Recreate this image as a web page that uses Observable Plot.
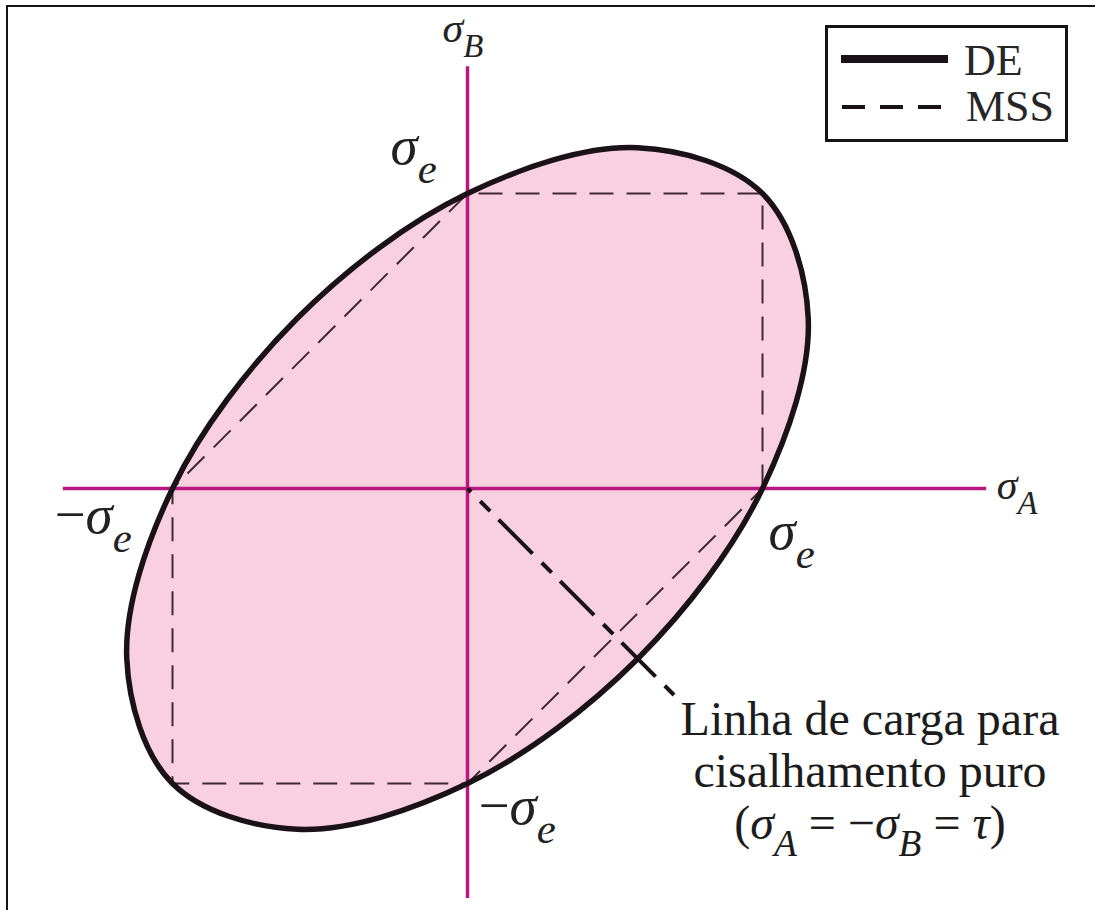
<!DOCTYPE html>
<html>
<head>
<meta charset="utf-8">
<script src="https://cdn.jsdelivr.net/npm/d3@7"></script>
<script src="https://cdn.jsdelivr.net/npm/@observablehq/plot@0.6"></script>
<style>
  html, body { margin: 0; padding: 0; background: #fff; }
  #wrap { position: relative; width: 1095px; height: 910px; overflow: hidden; }
  #wrap svg.plot { position: absolute; left: 0; top: 0; }
  #frame { position: absolute; left: 6px; top: 5px; right: -20px; bottom: -20px;
           border-top: 2.5px solid #151515; border-left: 2.5px solid #151515; }
  #legend { position: absolute; left: 825px; top: 25px; width: 243px; height: 117px;
            box-sizing: border-box; border: 3px solid #151515; background: #fff; }
  #legend svg { position: absolute; left: -3px; top: -3px; }
</style>
</head>
<body>
<div id="wrap">
  <div id="frame"></div>
  <div id="legend"></div>
</div>
<script>
// Stresses are in units of the yield strength σe.
const sigmaE = 1;

// Distortion-energy (von Mises) boundary: σA² − σAσB + σB² = σe²,
// points around the ellipse (axis crossings, square corners, extremes).
const deA = [1, 1.155, 1, 0.577, 0, -0.577, -1, -1.155, -1, -0.577, 0, 0.577];
const deB = [0, 0.577, 1, 1.155, 1, 0.577, 0, -0.577, -1, -1.155, -1, -0.577];

// Maximum-shear-stress (Tresca) hexagon vertices.
const mssA = [1, 1, 0, -1, -1, 0];
const mssB = [0, 1, 1, 0, -1, -1];

// Extents of the σA and σB axes.
const axisA = [-1.37, 1.76];
const axisB = [-1.39, 1.43];

// Load line for pure shear, σA = −σB = τ.
const shearA = [0, 0.7];
const shearB = [0, -0.7];

// Text.
const axisNames = ["σ_{A}", "σ_{B}"];
const interceptLabels = ["σ_{e}", "σ_{e}", "−σ_{e}", "−σ_{e}"];
const shearNote = "Linha de carga para\ncisalhamento puro\n(σ_{A} = −σ_{B} = τ)";
const legendNames = ["DE", "MSS"];

const de = deA.map((a, i) => ({a, b: deB[i]}));
const mss = mssA.map((a, i) => ({a, b: mssB[i]}));
const shear = shearA.map((a, i) => ({a, b: shearB[i]}));

const pink = "#f8d0df";
const magenta = "#b8187f";
const ink = "#1a1216";
const serif = "'Liberation Serif', 'Times New Roman', serif";

const pt = (a, b, text) => [{a, b, text}];

const chart = Plot.plot({
  width: 1095,
  height: 910,
  margin: 0,
  x: {domain: [0, sigmaE], range: [467, 762], axis: null},
  y: {domain: [0, sigmaE], range: [488, 193], axis: null},
  style: {background: "transparent", overflow: "visible"},
  marks: [
    // DE region
    Plot.line(de, {x: "a", y: "b", curve: "catmull-rom-closed", fill: pink, stroke: "none"}),
    // MSS hexagon
    Plot.line(mss, {x: "a", y: "b", curve: "linear-closed", stroke: "#3e2833", strokeWidth: 2,
                    strokeDasharray: "24,13", strokeLinecap: "butt"}),
    // σA and σB axes
    Plot.ruleY([0], {x1: axisA[0], x2: axisA[1], stroke: magenta, strokeWidth: 3.5}),
    Plot.ruleX([0], {y1: axisB[0], y2: axisB[1], stroke: magenta, strokeWidth: 3.5}),
    // DE boundary
    Plot.line(de, {x: "a", y: "b", curve: "catmull-rom-closed", stroke: ink, strokeWidth: 5.5}),
    // pure-shear load line
    Plot.line(shear, {x: "a", y: "b", stroke: ink, strokeWidth: 4, strokeLinecap: "butt",
                      strokeDasharray: "14,12,48,13", strokeDashoffset: 69}),
    // axis names
    Plot.text(pt(axisA[1], 0, axisNames[0]), {x: "a", y: "b", text: "text", fontFamily: serif,
      fontSize: 42, fill: "#222", textAnchor: "start", lineAnchor: "bottom", dx: 10, dy: 10}),
    Plot.text(pt(0, axisB[1], axisNames[1]), {x: "a", y: "b", text: "text", fontFamily: serif,
      fontSize: 42, fill: "#222", textAnchor: "start", lineAnchor: "bottom", dx: -25, dy: -25}),
    // intercepts ±σe
    Plot.text(pt(0, sigmaE, interceptLabels[0]), {x: "a", y: "b", text: "text", fontFamily: serif,
      fontSize: 55, fill: "#222", textAnchor: "start", lineAnchor: "bottom", dx: -77, dy: -30}),
    Plot.text(pt(sigmaE, 0, interceptLabels[1]), {x: "a", y: "b", text: "text", fontFamily: serif,
      fontSize: 55, fill: "#222", textAnchor: "start", lineAnchor: "bottom", dx: 6, dy: 60}),
    Plot.text(pt(-sigmaE, 0, interceptLabels[2]), {x: "a", y: "b", text: "text", fontFamily: serif,
      fontSize: 55, fill: "#222", textAnchor: "start", lineAnchor: "bottom", dx: -118, dy: 44}),
    Plot.text(pt(0, -sigmaE, interceptLabels[3]), {x: "a", y: "b", text: "text", fontFamily: serif,
      fontSize: 55, fill: "#222", textAnchor: "start", lineAnchor: "bottom", dx: 11, dy: 40}),
    // note on the load line
    Plot.text(pt(shearA[1], shearB[1], shearNote), {x: "a", y: "b", text: "text", fontFamily: serif,
      fontSize: 48, lineHeight: 1.08, fill: "#1c1c1c", textAnchor: "middle", lineAnchor: "bottom",
      dx: 196, dy: 144})
  ]
});

chart.classList.add("plot");
document.getElementById("wrap").prepend(chart);

// Turn "_{x}" markup into subscripts; Greek letters and subscripts set in italics.
function richText(node, subScale = 0.78, shift = 0.36) {
  const src = node.textContent;
  const runs = [];
  let i = 0;
  while (i < src.length) {
    if (src.startsWith("_{", i)) {
      const j = src.indexOf("}", i);
      runs.push({t: src.slice(i + 2, j), sub: true, it: true});
      i = j + 1;
    } else {
      const c = src[i];
      const it = /[\u0370-\u03ff]/.test(c);
      const last = runs[runs.length - 1];
      if (last && !last.sub && last.it === it) last.t += c;
      else runs.push({t: c, sub: false, it});
      i++;
    }
  }
  const fs = parseFloat(getComputedStyle(node).fontSize);
  node.textContent = "";
  let cur = 0;
  for (const r of runs) {
    const ts = document.createElementNS("http://www.w3.org/2000/svg", "tspan");
    const target = r.sub ? fs * shift : 0;
    if (target !== cur) ts.setAttribute("dy", (target - cur).toFixed(2));
    cur = target;
    if (r.sub) ts.setAttribute("font-size", (fs * subScale).toFixed(1));
    ts.setAttribute("font-style", r.it ? "italic" : "normal");
    ts.textContent = r.t;
    node.appendChild(ts);
  }
}
const rich = [...chart.querySelectorAll("text, tspan")]
  .filter((n) => n.children.length === 0 && n.textContent.includes("_{"));
rich.forEach((n) => richText(n));

// Legend: DE solid, MSS dashed.
const lg = d3.select("#legend").append("svg").attr("width", 243).attr("height", 117);
const rows = legendNames.map((name, i) => ({name, i}));
lg.selectAll("line").data(rows).join("line")
  .attr("x1", (d) => d.i ? 17 : 16).attr("x2", (d) => d.i ? 116 : 123)
  .attr("y1", (d) => d.i ? 82 : 34).attr("y2", (d) => d.i ? 82 : 34)
  .attr("stroke", ink)
  .attr("stroke-width", (d) => d.i ? 4 : 8)
  .attr("stroke-dasharray", (d) => d.i ? "23,15" : null);
lg.selectAll("text").data(rows).join("text")
  .attr("x", (d) => d.i ? 141 : 139).attr("y", (d) => d.i ? 96 : 50)
  .attr("font-family", serif).attr("font-size", 44).attr("fill", "#262626")
  .text((d) => d.name);
</script>
</body>
</html>
